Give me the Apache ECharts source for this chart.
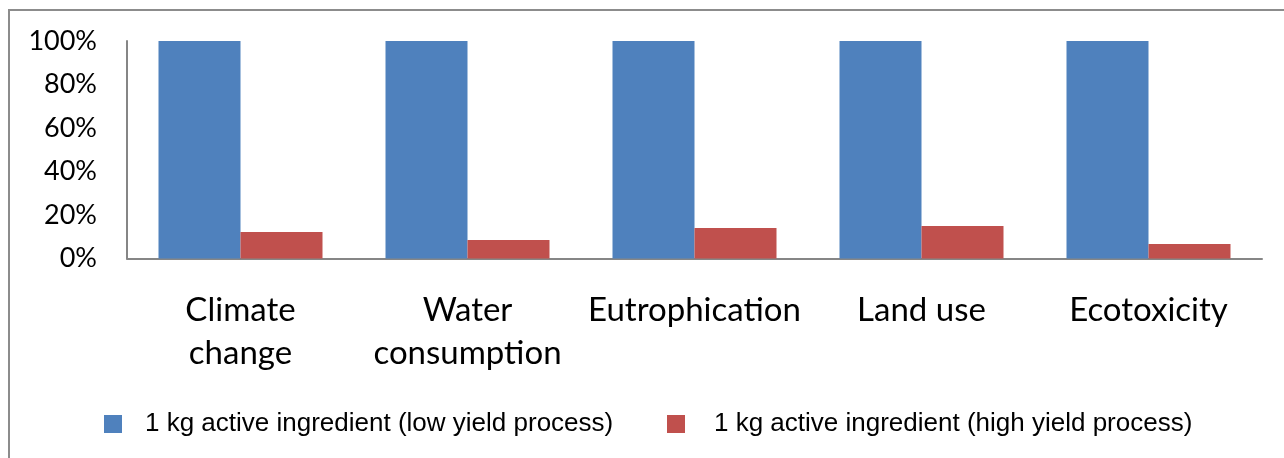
<!DOCTYPE html>
<html>
<head>
<meta charset="utf-8">
<script src="https://cdn.jsdelivr.net/npm/echarts@6/dist/echarts.min.js"></script>
<style>
  html, body { margin: 0; padding: 0; background: #ffffff; }
  #chart { width: 1284px; height: 458px; }
</style>
</head>
<body>
<div id="chart"></div>
<script>
// Impact categories and relative results (% of the low-yield process)
const categories = ['Climate\nchange', 'Water\nconsumption', 'Eutrophication', 'Land use', 'Ecotoxicity'];
const lowYield = [100, 100, 100, 100, 100];
const highYield = [12.2, 8.5, 14.0, 14.9, 6.7];
const seriesNames = [
  '1 kg active ingredient (low yield process)',
  '1 kg active ingredient (high yield process)'
];

const axisFont = 'Lato, Carlito, sans-serif';
const legendFont = '"Liberation Sans", Arial, sans-serif';

const chart = echarts.init(document.getElementById('chart'), null, { renderer: 'canvas' });

chart.setOption({
  backgroundColor: '#ffffff',
  animation: false,
  graphic: [{
    type: 'rect',
    shape: { x: 9, y: 10, width: 1300, height: 470 },
    style: { fill: 'none', stroke: '#8c8c8c', lineWidth: 2 },
    silent: true
  }],
  grid: { left: 127, right: 22, top: 41, bottom: 199.5, containLabel: false },
  legend: [{
    data: [seriesNames[0]],
    left: 104, top: 411,
    padding: 0,
    icon: 'rect', itemWidth: 18, itemHeight: 18,
    textStyle: { fontFamily: legendFont, fontSize: 26, color: '#000', padding: [0, 0, 0, 18] }
  }, {
    data: [seriesNames[1]],
    left: 667, top: 411,
    padding: 0,
    icon: 'rect', itemWidth: 18, itemHeight: 18,
    textStyle: { fontFamily: legendFont, fontSize: 26, color: '#000', padding: [0, 0, 0, 24] }
  }],
  xAxis: {
    type: 'category',
    data: categories,
    axisLine: { lineStyle: { color: '#868686', width: 2 } },
    axisTick: { show: false },
    axisLabel: {
      interval: 0,
      margin: 30,
      fontFamily: axisFont,
      fontSize: 33,
      lineHeight: 43,
      color: '#000'
    }
  },
  yAxis: {
    type: 'value',
    min: 0, max: 100, interval: 20,
    axisLine: { show: true, lineStyle: { color: '#868686', width: 2 } },
    axisTick: { show: false },
    splitLine: { show: false },
    axisLabel: {
      formatter: '{value}%',
      margin: 30,
      fontFamily: axisFont,
      fontSize: 27,
      color: '#000'
    }
  },
  series: [{
    name: seriesNames[0],
    type: 'bar',
    data: lowYield,
    barWidth: 82,
    barGap: '0%',
    itemStyle: { color: '#4F81BD' }
  }, {
    name: seriesNames[1],
    type: 'bar',
    data: highYield,
    barWidth: 82,
    barGap: '0%',
    itemStyle: { color: '#C0504D' }
  }]
});
</script>
</body>
</html>
